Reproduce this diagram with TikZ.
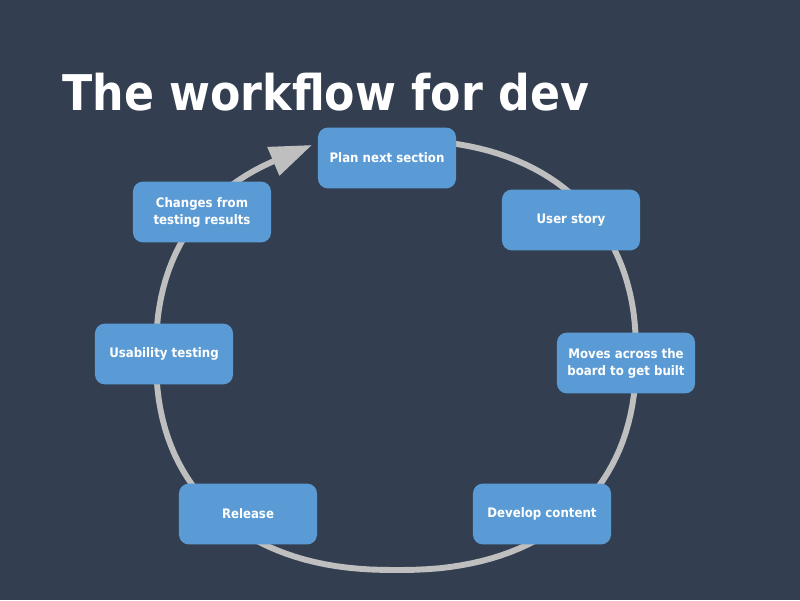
\documentclass[tikz,border=0pt]{standalone}
\usepackage{fontspec}
\setmainfont{DejaVu Sans}
\newfontfamily\condfont{DejaVu Sans Condensed}
\usetikzlibrary{arrows.meta, positioning}
\definecolor{mbg}{HTML}{333F50}
\definecolor{mbox}{HTML}{5B9BD5}
\definecolor{mring}{HTML}{BFBFBF}
\tikzset{
  sbox/.style={fill=mbox, rounded corners=7pt, minimum width=3.45cm,
               minimum height=1.52cm, align=center, text=white, inner sep=2pt,
               font=\condfont\bfseries\fontsize{9.3}{12}\selectfont},
  ring/.style={draw=mring, line width=4.2pt,
               -{Triangle[length=1.05cm, width=0.74cm]}},
}

\begin{document}
\begin{tikzpicture}[x=0.025cm, y=-0.025cm]

  %% Background
  \fill[mbg] (0,0) rectangle (800,600);
  \useasboundingbox (0,0) rectangle (800,600);

  %% Title
  \node[anchor=base west, inner sep=0, text=white,
        font=\condfont\bfseries\fontsize{35}{40}\selectfont] (title) at (62,110) {The workflow for dev};

  %% Cycle ring (behind the boxes), ends in the arrow at the first step
  \coordinate (tip) at (312,145);
  \draw[ring] plot[domain=-100:242, samples=140, variable=\t]
    ({396+240*sign(cos(\t))*pow(abs(cos(\t))+0.00001,0.87)},
     {355+215*sign(sin(\t))*pow(abs(sin(\t))+0.00001,0.87)}) -- (tip);

  %% Steps
  \node[sbox] (plan)    at (387,158) {Plan next section};
  \node[sbox] (story)   at (571,220) {User story};
  \node[sbox] (board)   at (626,363) {Moves across the\\board to get built};
  \node[sbox] (develop) at (542,514) {Develop content};
  \node[sbox] (release) at (248,514) {Release};
  \node[sbox] (usab)    at (164,354) {Usability testing};
  \node[sbox] (changes) at (202,212) {Changes from\\testing results};

\end{tikzpicture}
\end{document}
